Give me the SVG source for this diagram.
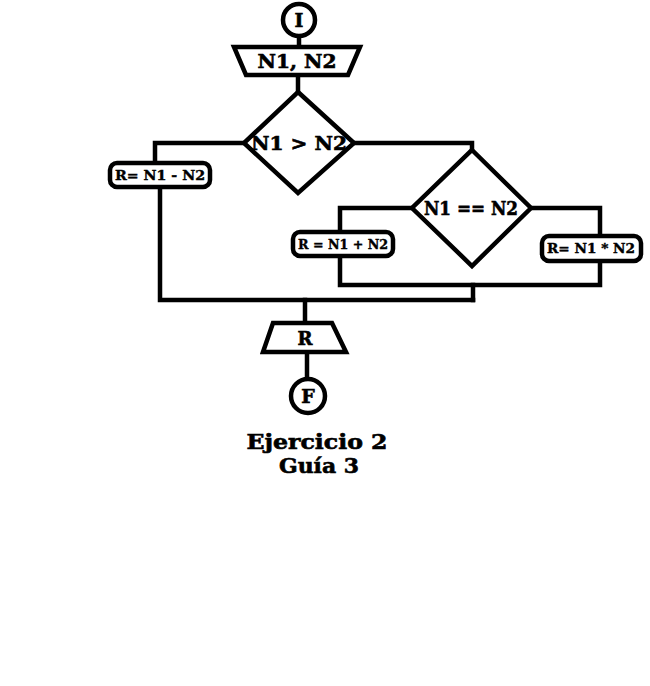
<svg xmlns="http://www.w3.org/2000/svg" width="650" height="686" viewBox="0 0 650 686">
<style>
.s{fill:#fff;stroke:#000;stroke-width:4.5;stroke-linejoin:miter}
.c{fill:none;stroke:#000;stroke-width:4.5;stroke-linecap:square}
text{font-family:"DejaVu Serif","Liberation Serif",serif;font-weight:bold;fill:#000;text-anchor:middle;stroke:#000;stroke-width:0.6}
.big{font-size:19px}
.sm{font-size:12px;stroke-width:0.4}
.t{font-size:20px}
</style>
<rect width="650" height="686" fill="#fff"/>
<g id="connectors">
<path class="c" d="M299 37V46"/>
<path class="c" d="M298 77V92"/>
<path class="c" d="M244 143H155V163"/>
<path class="c" d="M160 188V300H473"/>
<path class="c" d="M354 143H472V150"/>
<path class="c" d="M412 208H340V231"/>
<path class="c" d="M340 258V285H600V262"/>
<path class="c" d="M531 208H600V235"/>
<path class="c" d="M473 285V300"/>
<path class="c" d="M305 300V322"/>
<path class="c" d="M307 352V378"/>
</g>
<g id="start">
<circle class="s" cx="299" cy="20" r="16"/>
<text x="299" y="27" class="big">I</text>
</g>
<g id="input">
<polygon class="s" points="234,47 360,47 348,75 246,75"/>
<text x="297" y="68" class="big" textLength="79" lengthAdjust="spacingAndGlyphs">N1, N2</text>
</g>
<g id="cond1">
<polygon class="s" points="298,92 354,143 298,193 244,143"/>
<text x="299" y="150" class="big" textLength="96" lengthAdjust="spacingAndGlyphs">N1 &gt; N2</text>
</g>
<g id="sub">
<rect class="s" x="110" y="163" width="100" height="24" rx="7"/>
<text x="160" y="180" class="sm" textLength="90" lengthAdjust="spacingAndGlyphs">R= N1 - N2</text>
</g>
<g id="cond2">
<polygon class="s" points="472,150 531,208 472,266 412,208"/>
<text x="471" y="215" class="big" textLength="94" lengthAdjust="spacingAndGlyphs">N1 == N2</text>
</g>
<g id="add">
<rect class="s" x="293" y="232" width="100" height="24" rx="7"/>
<text x="343" y="249" class="sm" textLength="90" lengthAdjust="spacingAndGlyphs">R = N1 + N2</text>
</g>
<g id="mul">
<rect class="s" x="542" y="236" width="99" height="25" rx="7"/>
<text x="591" y="253" class="sm" textLength="88" lengthAdjust="spacingAndGlyphs">R= N1 * N2</text>
</g>
<g id="output">
<polygon class="s" points="273,323 332,323 346,352 263,352"/>
<text x="305" y="345" style="font-size:18px">R</text>
</g>
<g id="end">
<circle class="s" cx="308" cy="396" r="17"/>
<text x="308" y="403" class="big">F</text>
</g>
<g id="title">
<text x="317" y="449" class="t" textLength="141" lengthAdjust="spacingAndGlyphs">Ejercicio 2</text>
<text x="319" y="473" class="t" textLength="80" lengthAdjust="spacingAndGlyphs">Guía 3</text>
</g>
</svg>
